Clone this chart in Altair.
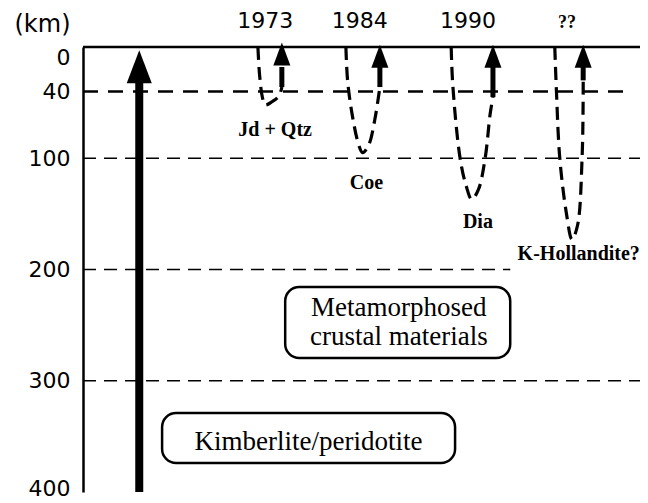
import altair as alt
import pandas as pd

# ---------------- data ----------------
depth_ticks = [0, 40, 100, 200, 300, 400]

# dashed horizontal depth levels (km) and how far to the right they run (x units 0-100)
level_depth = [40, 100, 200, 300]
level_end = [97, 100, 76.7, 100]

# surface line
surface_depth = [0]
surface_start = [0]
surface_end = [100]

# exhumation loops (x position, depth km) for each discovery
loop_names = ["1973", "1984", "1990", "??"]
loop_x = [
    [31.4, 31.7, 32.2, 32.7, 34.0, 35.2, 35.7],
    [47.2, 47.5, 48.3, 49.5, 50.2, 51.3, 52.4, 53.3],
    [66.1, 66.4, 67.7, 68.8, 69.8, 71.0, 72.2, 73.1, 73.6],
    [84.7, 85.0, 85.6, 86.8, 87.8, 88.8, 89.6, 89.8, 89.8],
]
loop_depth = [
    [0, 25, 45, 52, 49, 44, 36],
    [0, 30, 60, 88, 95, 88, 65, 36],
    [0, 35, 100, 125, 137, 128, 100, 60, 45],
    [0, 40, 100, 150, 173, 160, 100, 40, 30],
]

# solid shafts of the small return arrows
shaft_x = [35.7, 53.3, 73.6, 89.8]
shaft_top = [18, 18, 18, 18]
shaft_bottom = [36, 36, 45, 30]
tip_depth = [-4, -2, -2, -2]

# kimberlite ascent arrow
big_x = [10.1]
big_bottom = [400]
big_top = [28]
big_tip = [3]

# labels
year_labels = ["1973", "1984", "1990"]
year_x = [32.7, 49.7, 69.1]
year_depth = [-23, -23, -23]
q_label = ["??"]
q_x = [86.9]
q_depth = [-22]

phase_labels = ["Jd + Qtz", "Coe", "Dia", "K-Hollandite?"]
phase_x = [34.5, 50.9, 70.9, 89.0]
phase_depth = [74.6, 122, 157, 186]

box_x1 = [36.3, 14.2]
box_x2 = [76.7, 66.8]
box_d1 = [215.7, 329]
box_d2 = [279.6, 374]
box_text = ["Metamorphosed", "crustal materials", "Kimberlite/peridotite"]
box_text_x = [56.7, 56.7, 40.5]
box_text_depth = [234.6, 260.7, 355]

# ---------------- tables ----------------
loops = pd.DataFrame(
    [
        {"loop": n, "i": i, "x": x, "d": d}
        for n, xs_, ds in zip(loop_names, loop_x, loop_depth)
        for i, (x, d) in enumerate(zip(xs_, ds))
    ]
)
levels = pd.DataFrame({"d": level_depth, "x2": level_end, "x": [0] * len(level_depth)})
surface = pd.DataFrame({"d": surface_depth, "x": surface_start, "x2": surface_end})
shafts = pd.DataFrame({"x": shaft_x, "d": shaft_top, "d2": shaft_bottom, "tip": tip_depth})
big = pd.DataFrame({"x": big_x, "d": big_top, "d2": big_bottom, "tip": big_tip})
years = pd.DataFrame({"t": year_labels, "x": year_x, "d": year_depth})
qq = pd.DataFrame({"t": q_label, "x": q_x, "d": q_depth})
phases = pd.DataFrame({"t": phase_labels, "x": phase_x, "d": phase_depth})
boxes = pd.DataFrame({"x": box_x1, "x2": box_x2, "d": box_d1, "d2": box_d2})
btext = pd.DataFrame({"t": box_text, "x": box_text_x, "d": box_text_depth})

xs = alt.Scale(domain=[0, 100], nice=False, zero=False)
ys = alt.Scale(domain=[0, 400], reverse=True, nice=False, zero=False)

yaxis = alt.Axis(
    values=depth_ticks,
    title="(km)",
    titleAngle=0,
    titleX=-41,
    titleY=-23,
    titleAlign="center",
    titleBaseline="middle",
    titleFont="DejaVu Sans",
    titleFontSize=24,
    titleFontWeight="normal",
    titleColor="black",
    labelFont="DejaVu Sans",
    labelFontSize=22,
    labelColor="black",
    labelPadding=13,
    labelBaseline={"condition": {"test": "datum.value == 0", "value": "top"}, "value": "middle"},
    labelOffset={"condition": {"test": "datum.value == 400", "value": -4}, "value": 0},
    labelOverlap=False,
    ticks=False,
    tickSize=0,
    grid=False,
    domainColor="black",
    domainWidth=2.5,
)

X = lambda f="x": alt.X(f"{f}:Q", scale=xs, axis=None)
Y = lambda f="d": alt.Y(f"{f}:Q", scale=ys, axis=yaxis, title="(km)")

surface_l = alt.Chart(surface).mark_rule(color="black", strokeWidth=2.5).encode(
    x=X(), x2="x2:Q", y=Y()
)

lvl40 = alt.Chart(levels).transform_filter("datum.d == 40").mark_rule(
    color="black", strokeWidth=2.5, strokeDash=[15, 10]
).encode(x=X(), x2="x2:Q", y=Y())
lvl_other = alt.Chart(levels).transform_filter("datum.d != 40").mark_rule(
    color="black", strokeWidth=1.7, strokeDash=[13, 8]
).encode(x=X(), x2="x2:Q", y=Y())

loop_l = alt.Chart(loops).mark_line(
    color="black", strokeWidth=3.2, strokeDash=[13, 7], interpolate="catmull-rom"
).encode(x=X(), y=Y(), detail="loop:N", order="i:Q")

shaft_l = alt.Chart(shafts).mark_rule(color="black", strokeWidth=5).encode(
    x=X(), y=Y(), y2="d2:Q"
)
small_heads = alt.Chart(shafts).mark_point(
    shape="M0,-1L-0.74,1L0.74,1Z", size=529, filled=True, opacity=1, color="black", yOffset=11.5
).encode(x=X(), y=Y("tip"))

big_shaft = alt.Chart(big).mark_rule(color="black", strokeWidth=8).encode(
    x=X(), y=Y(), y2="d2:Q"
)
big_head = alt.Chart(big).mark_point(
    shape="M0,-1L-0.76,1L0.76,1Z", size=1089, filled=True, opacity=1, color="black", yOffset=16.5
).encode(x=X(), y=Y("tip"))

years_l = alt.Chart(years).mark_text(
    font="DejaVu Sans", fontSize=22, color="black", baseline="middle", align="center"
).encode(x=X(), y=Y(), text="t:N")
qq_l = alt.Chart(qq).mark_text(
    font="Liberation Serif", fontSize=18, fontWeight="bold", color="black", baseline="middle", align="center"
).encode(x=X(), y=Y(), text="t:N")
phase_l = alt.Chart(phases).mark_text(
    font="Liberation Serif", fontSize=20, fontWeight="bold", color="black", baseline="middle", align="center"
).encode(x=X(), y=Y(), text="t:N")

box_l = alt.Chart(boxes).mark_rect(
    fill="white", stroke="black", strokeWidth=2.5, cornerRadius=14
).encode(x=X(), x2="x2:Q", y=Y(), y2="d2:Q")
btext_l = alt.Chart(btext).mark_text(
    font="Liberation Serif", fontSize=27, color="black", baseline="middle", align="center"
).encode(x=X(), y=Y(), text="t:N")

chart = alt.layer(
    surface_l, lvl40, lvl_other, loop_l, shaft_l, small_heads, big_shaft, big_head,
    years_l, qq_l, phase_l, box_l, btext_l,
).properties(
    width=557,
    height=445,
    autosize=alt.AutoSizeParams(type="none"),
    padding={"left": 75, "top": 39, "right": 0, "bottom": 8},
    background="white",
).configure_view(stroke=None)

chart.save("out.html", embed_options={"renderer": "svg", "actions": False})
